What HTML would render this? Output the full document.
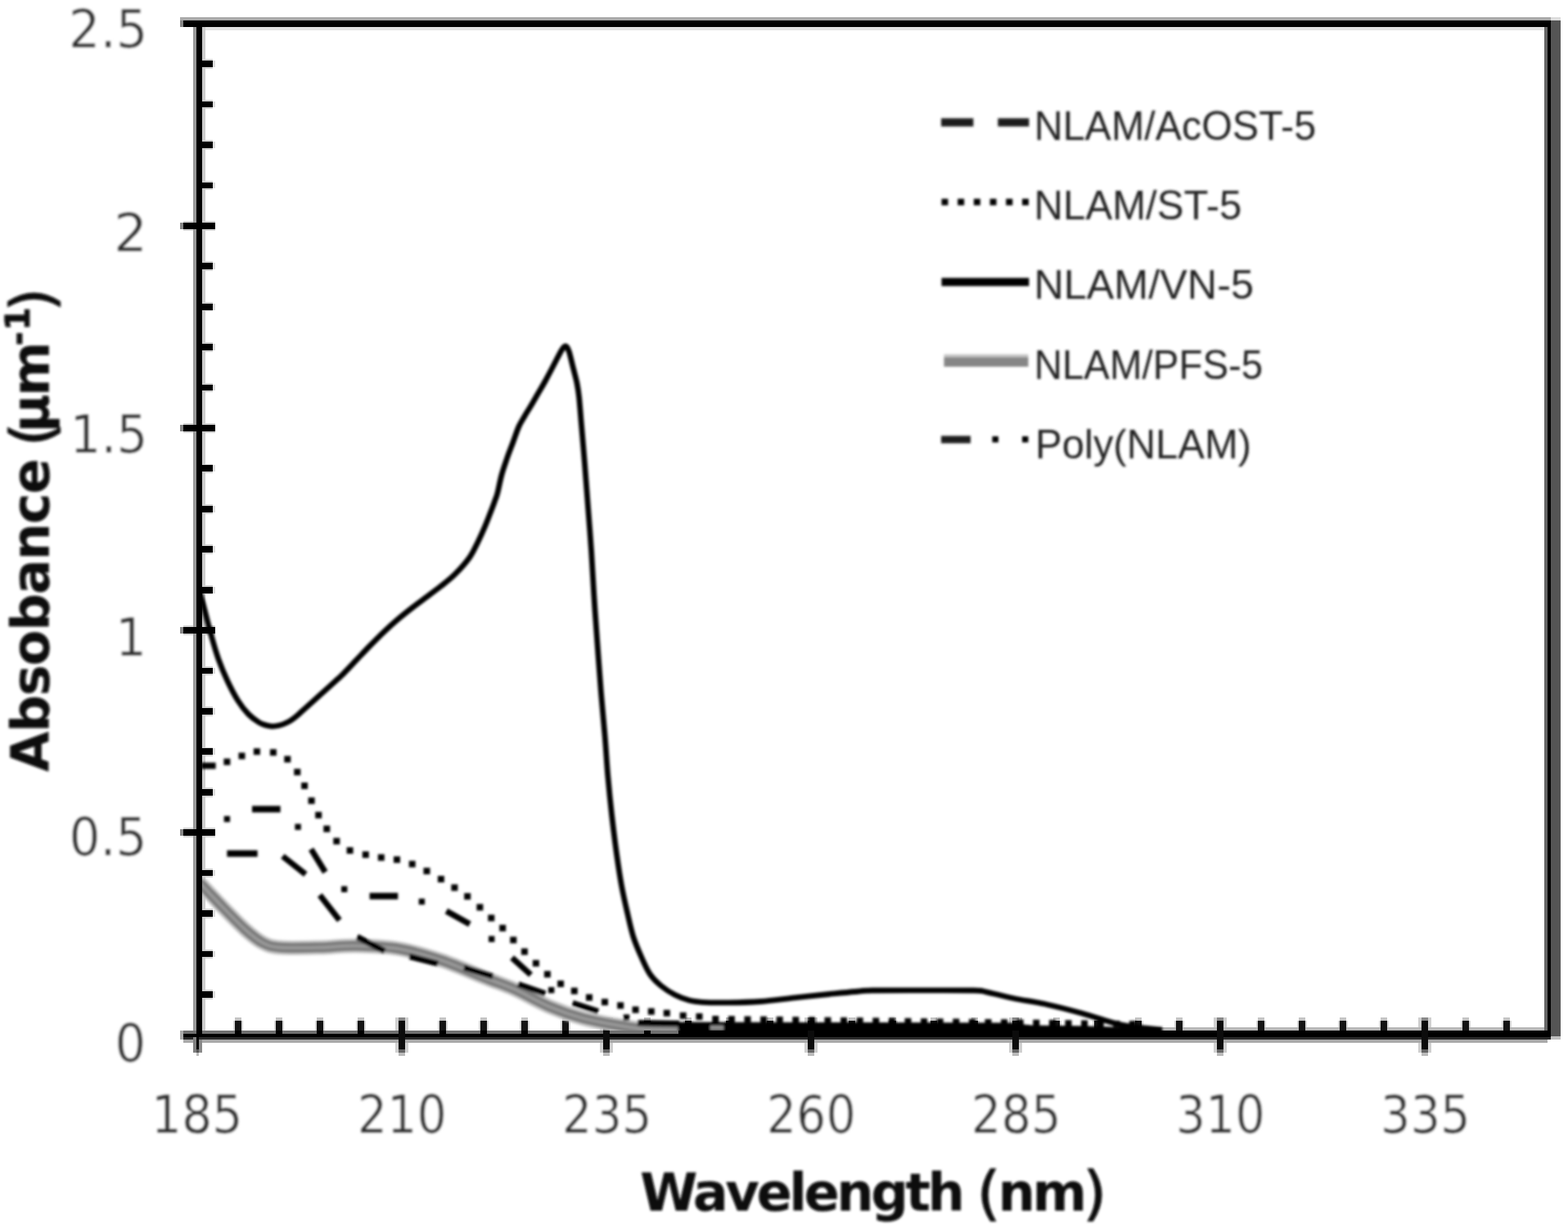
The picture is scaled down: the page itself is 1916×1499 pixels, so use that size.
<!DOCTYPE html>
<html lang="en">
<head>
<meta charset="utf-8">
<title>UV absorbance spectra</title>
<style>
html,body{margin:0;padding:0;background:#fff;}
body{width:1916px;height:1499px;overflow:hidden;}
svg{display:block;}
</style>
</head>
<body>
<svg width="1916" height="1499" viewBox="0 0 1916 1499" shape-rendering="geometricPrecision">
<defs><clipPath id="plot"><rect x="247" y="30" width="1644" height="1229"/></clipPath><filter id="soft" x="-2%" y="-2%" width="104%" height="104%"><feGaussianBlur stdDeviation="1.5"/></filter><filter id="soft2" x="-2%" y="-2%" width="104%" height="104%"><feGaussianBlur stdDeviation="1.35"/></filter></defs>
<rect x="0" y="0" width="1916" height="1499" fill="#fff"/>
<g id="axes" shape-rendering="crispEdges">
<rect x="1894.7" y="25.2" width="12.2" height="1241.1" fill="#555"/>
<rect x="1894.7" y="21.3" width="12.2" height="3.9" fill="#ddd"/>
<rect x="1894.7" y="1266.3" width="12.2" height="3.7" fill="#c0c0c0"/>
<rect x="1886.8" y="33" width="4.1" height="1225.6" fill="#666"/>
<rect x="1890.9" y="25.2" width="3.8" height="1241.1" fill="#000"/>
<rect x="219.7" y="21.3" width="1675" height="4" fill="#aaa"/>
<rect x="223.7" y="25.3" width="1671" height="7.8" fill="#000"/>
<rect x="219.7" y="25.3" width="4" height="7.8" fill="#888"/>
<rect x="251" y="33.1" width="1635.8" height="3.7" fill="#e2e2e2"/>
<rect x="483.3" y="1243" width="3.8" height="43" fill="#d0d0d0"/>
<rect x="494.9" y="1243" width="3.8" height="43" fill="#d0d0d0"/>
<rect x="733.3" y="1243" width="3.9" height="43" fill="#d0d0d0"/>
<rect x="744.9" y="1243" width="3.9" height="43" fill="#d0d0d0"/>
<rect x="983.3" y="1243" width="3.9" height="43" fill="#d0d0d0"/>
<rect x="994.9" y="1243" width="3.9" height="43" fill="#d0d0d0"/>
<rect x="1233.3" y="1243" width="3.9" height="43" fill="#d0d0d0"/>
<rect x="1244.8" y="1243" width="3.9" height="43" fill="#d0d0d0"/>
<rect x="1483.3" y="1243" width="3.9" height="43" fill="#d0d0d0"/>
<rect x="1494.8" y="1243" width="3.9" height="43" fill="#d0d0d0"/>
<rect x="1733.3" y="1243" width="3.9" height="43" fill="#d0d0d0"/>
<rect x="1744.8" y="1243" width="3.9" height="43" fill="#d0d0d0"/>
<rect x="285" y="1247" width="12" height="11.7" fill="#d8d8d8"/>
<rect x="287.1" y="1243.2" width="7.7" height="3.8" fill="#c4c4c4"/>
<rect x="335" y="1247" width="12" height="11.7" fill="#d8d8d8"/>
<rect x="337.1" y="1243.2" width="7.7" height="3.8" fill="#c4c4c4"/>
<rect x="385" y="1247" width="12" height="11.7" fill="#d8d8d8"/>
<rect x="387.1" y="1243.2" width="7.7" height="3.8" fill="#c4c4c4"/>
<rect x="435" y="1247" width="12" height="11.7" fill="#d8d8d8"/>
<rect x="437.1" y="1243.2" width="7.7" height="3.8" fill="#c4c4c4"/>
<rect x="535" y="1247" width="12" height="11.7" fill="#d8d8d8"/>
<rect x="537.1" y="1243.2" width="7.7" height="3.8" fill="#c4c4c4"/>
<rect x="585" y="1247" width="12" height="11.7" fill="#d8d8d8"/>
<rect x="587.1" y="1243.2" width="7.7" height="3.8" fill="#c4c4c4"/>
<rect x="635" y="1247" width="12" height="11.7" fill="#d8d8d8"/>
<rect x="637.1" y="1243.2" width="7.7" height="3.8" fill="#c4c4c4"/>
<rect x="685" y="1247" width="12" height="11.7" fill="#d8d8d8"/>
<rect x="687.1" y="1243.2" width="7.7" height="3.8" fill="#c4c4c4"/>
<rect x="785" y="1247" width="12" height="11.7" fill="#d8d8d8"/>
<rect x="787.1" y="1243.2" width="7.7" height="3.8" fill="#c4c4c4"/>
<rect x="835" y="1247" width="12" height="11.7" fill="#d8d8d8"/>
<rect x="837.1" y="1243.2" width="7.7" height="3.8" fill="#c4c4c4"/>
<rect x="885" y="1247" width="12" height="11.7" fill="#d8d8d8"/>
<rect x="887.1" y="1243.2" width="7.7" height="3.8" fill="#c4c4c4"/>
<rect x="935" y="1247" width="12" height="11.7" fill="#d8d8d8"/>
<rect x="937.1" y="1243.2" width="7.7" height="3.8" fill="#c4c4c4"/>
<rect x="1035" y="1247" width="12" height="11.7" fill="#d8d8d8"/>
<rect x="1037.2" y="1243.2" width="7.7" height="3.8" fill="#c4c4c4"/>
<rect x="1085" y="1247" width="12" height="11.7" fill="#d8d8d8"/>
<rect x="1087.2" y="1243.2" width="7.7" height="3.8" fill="#c4c4c4"/>
<rect x="1135" y="1247" width="12" height="11.7" fill="#d8d8d8"/>
<rect x="1137.2" y="1243.2" width="7.7" height="3.8" fill="#c4c4c4"/>
<rect x="1185" y="1247" width="12" height="11.7" fill="#d8d8d8"/>
<rect x="1187.2" y="1243.2" width="7.7" height="3.8" fill="#c4c4c4"/>
<rect x="1285" y="1247" width="12" height="11.7" fill="#d8d8d8"/>
<rect x="1287.2" y="1243.2" width="7.7" height="3.8" fill="#c4c4c4"/>
<rect x="1335" y="1247" width="12" height="11.7" fill="#d8d8d8"/>
<rect x="1337.2" y="1243.2" width="7.7" height="3.8" fill="#c4c4c4"/>
<rect x="1385" y="1247" width="12" height="11.7" fill="#d8d8d8"/>
<rect x="1387.2" y="1243.2" width="7.7" height="3.8" fill="#c4c4c4"/>
<rect x="1435" y="1247" width="12" height="11.7" fill="#d8d8d8"/>
<rect x="1437.2" y="1243.2" width="7.7" height="3.8" fill="#c4c4c4"/>
<rect x="1535" y="1247" width="12" height="11.7" fill="#d8d8d8"/>
<rect x="1537.2" y="1243.2" width="7.7" height="3.8" fill="#c4c4c4"/>
<rect x="1585" y="1247" width="12" height="11.7" fill="#d8d8d8"/>
<rect x="1587.2" y="1243.2" width="7.7" height="3.8" fill="#c4c4c4"/>
<rect x="1635" y="1247" width="12" height="11.7" fill="#d8d8d8"/>
<rect x="1637.2" y="1243.2" width="7.7" height="3.8" fill="#c4c4c4"/>
<rect x="1685" y="1247" width="12" height="11.7" fill="#d8d8d8"/>
<rect x="1687.2" y="1243.2" width="7.7" height="3.8" fill="#c4c4c4"/>
<rect x="1785" y="1247" width="12" height="11.7" fill="#d8d8d8"/>
<rect x="1787.2" y="1243.2" width="7.7" height="3.8" fill="#c4c4c4"/>
<rect x="1835" y="1247" width="12" height="11.7" fill="#d8d8d8"/>
<rect x="1837.2" y="1243.2" width="7.7" height="3.8" fill="#c4c4c4"/>
<rect x="1400" y="1254.9" width="486.8" height="3.8" fill="#b8b8b8"/>
<rect x="223.7" y="1258.7" width="605.3" height="3.9" fill="#707070"/>
<rect x="829" y="1258.7" width="1065.7" height="3.9" fill="#000"/>
<rect x="223.7" y="1262.6" width="1671" height="3.9" fill="#000"/>
<rect x="223.7" y="1266.5" width="1671" height="3.7" fill="#2a2a2a"/>
<rect x="223.7" y="1270.2" width="1667.2" height="3.7" fill="#aaa"/>
<rect x="219.8" y="1258.7" width="3.9" height="11.5" fill="#aaa"/>
<rect x="287.1" y="1247" width="7.7" height="11.7" fill="#141414"/>
<rect x="287.1" y="1258.7" width="7.7" height="3.9" fill="#000"/>
<rect x="337.1" y="1247" width="7.7" height="11.7" fill="#141414"/>
<rect x="337.1" y="1258.7" width="7.7" height="3.9" fill="#000"/>
<rect x="387.1" y="1247" width="7.7" height="11.7" fill="#141414"/>
<rect x="387.1" y="1258.7" width="7.7" height="3.9" fill="#000"/>
<rect x="437.1" y="1247" width="7.7" height="11.7" fill="#141414"/>
<rect x="437.1" y="1258.7" width="7.7" height="3.9" fill="#000"/>
<rect x="537.1" y="1247" width="7.7" height="11.7" fill="#141414"/>
<rect x="537.1" y="1258.7" width="7.7" height="3.9" fill="#000"/>
<rect x="587.1" y="1247" width="7.7" height="11.7" fill="#141414"/>
<rect x="587.1" y="1258.7" width="7.7" height="3.9" fill="#000"/>
<rect x="637.1" y="1247" width="7.7" height="11.7" fill="#141414"/>
<rect x="637.1" y="1258.7" width="7.7" height="3.9" fill="#000"/>
<rect x="687.1" y="1247" width="7.7" height="11.7" fill="#141414"/>
<rect x="687.1" y="1258.7" width="7.7" height="3.9" fill="#000"/>
<rect x="787.1" y="1247" width="7.7" height="11.7" fill="#141414"/>
<rect x="787.1" y="1258.7" width="7.7" height="3.9" fill="#000"/>
<rect x="837.1" y="1247" width="7.7" height="11.7" fill="#141414"/>
<rect x="837.1" y="1258.7" width="7.7" height="3.9" fill="#000"/>
<rect x="887.1" y="1247" width="7.7" height="11.7" fill="#141414"/>
<rect x="887.1" y="1258.7" width="7.7" height="3.9" fill="#000"/>
<rect x="937.1" y="1247" width="7.7" height="11.7" fill="#141414"/>
<rect x="937.1" y="1258.7" width="7.7" height="3.9" fill="#000"/>
<rect x="1037.2" y="1247" width="7.7" height="11.7" fill="#141414"/>
<rect x="1037.2" y="1258.7" width="7.7" height="3.9" fill="#000"/>
<rect x="1087.2" y="1247" width="7.7" height="11.7" fill="#141414"/>
<rect x="1087.2" y="1258.7" width="7.7" height="3.9" fill="#000"/>
<rect x="1137.2" y="1247" width="7.7" height="11.7" fill="#141414"/>
<rect x="1137.2" y="1258.7" width="7.7" height="3.9" fill="#000"/>
<rect x="1187.2" y="1247" width="7.7" height="11.7" fill="#141414"/>
<rect x="1187.2" y="1258.7" width="7.7" height="3.9" fill="#000"/>
<rect x="1287.2" y="1247" width="7.7" height="11.7" fill="#141414"/>
<rect x="1287.2" y="1258.7" width="7.7" height="3.9" fill="#000"/>
<rect x="1337.2" y="1247" width="7.7" height="11.7" fill="#141414"/>
<rect x="1337.2" y="1258.7" width="7.7" height="3.9" fill="#000"/>
<rect x="1387.2" y="1247" width="7.7" height="11.7" fill="#141414"/>
<rect x="1387.2" y="1258.7" width="7.7" height="3.9" fill="#000"/>
<rect x="1437.2" y="1247" width="7.7" height="11.7" fill="#141414"/>
<rect x="1437.2" y="1258.7" width="7.7" height="3.9" fill="#000"/>
<rect x="1537.2" y="1247" width="7.7" height="11.7" fill="#141414"/>
<rect x="1537.2" y="1258.7" width="7.7" height="3.9" fill="#000"/>
<rect x="1587.2" y="1247" width="7.7" height="11.7" fill="#141414"/>
<rect x="1587.2" y="1258.7" width="7.7" height="3.9" fill="#000"/>
<rect x="1637.2" y="1247" width="7.7" height="11.7" fill="#141414"/>
<rect x="1637.2" y="1258.7" width="7.7" height="3.9" fill="#000"/>
<rect x="1687.2" y="1247" width="7.7" height="11.7" fill="#141414"/>
<rect x="1687.2" y="1258.7" width="7.7" height="3.9" fill="#000"/>
<rect x="1787.2" y="1247" width="7.7" height="11.7" fill="#141414"/>
<rect x="1787.2" y="1258.7" width="7.7" height="3.9" fill="#000"/>
<rect x="1837.2" y="1247" width="7.7" height="11.7" fill="#141414"/>
<rect x="1837.2" y="1258.7" width="7.7" height="3.9" fill="#000"/>
<rect x="487.1" y="1246.7" width="7.7" height="35.5" fill="#0c0c0c"/>
<rect x="487.1" y="1243" width="7.7" height="3.7" fill="#888"/>
<rect x="487.1" y="1282.2" width="7.7" height="3.8" fill="#666"/>
<rect x="487.1" y="1286" width="7.7" height="3.7" fill="#bbb"/>
<rect x="737.1" y="1246.7" width="7.7" height="35.5" fill="#0c0c0c"/>
<rect x="737.1" y="1243" width="7.7" height="3.7" fill="#888"/>
<rect x="737.1" y="1282.2" width="7.7" height="3.8" fill="#666"/>
<rect x="737.1" y="1286" width="7.7" height="3.7" fill="#bbb"/>
<rect x="987.1" y="1246.7" width="7.7" height="35.5" fill="#0c0c0c"/>
<rect x="987.1" y="1243" width="7.7" height="3.7" fill="#888"/>
<rect x="987.1" y="1282.2" width="7.7" height="3.8" fill="#666"/>
<rect x="987.1" y="1286" width="7.7" height="3.7" fill="#bbb"/>
<rect x="1237.2" y="1246.7" width="7.7" height="35.5" fill="#0c0c0c"/>
<rect x="1237.2" y="1243" width="7.7" height="3.7" fill="#888"/>
<rect x="1237.2" y="1282.2" width="7.7" height="3.8" fill="#666"/>
<rect x="1237.2" y="1286" width="7.7" height="3.7" fill="#bbb"/>
<rect x="1487.2" y="1246.7" width="7.7" height="35.5" fill="#0c0c0c"/>
<rect x="1487.2" y="1243" width="7.7" height="3.7" fill="#888"/>
<rect x="1487.2" y="1282.2" width="7.7" height="3.8" fill="#666"/>
<rect x="1487.2" y="1286" width="7.7" height="3.7" fill="#bbb"/>
<rect x="1737.2" y="1246.7" width="7.7" height="35.5" fill="#0c0c0c"/>
<rect x="1737.2" y="1243" width="7.7" height="3.7" fill="#888"/>
<rect x="1737.2" y="1282.2" width="7.7" height="3.8" fill="#666"/>
<rect x="1737.2" y="1286" width="7.7" height="3.7" fill="#bbb"/>
<rect x="236" y="1266.5" width="3.7" height="19.5" fill="#808080"/>
<rect x="239.7" y="1262" width="3.7" height="20.2" fill="#000"/>
<rect x="239.7" y="1282.2" width="3.7" height="3.8" fill="#555"/>
<rect x="239.7" y="1286" width="3.7" height="3.7" fill="#bbb"/>
<rect x="243.4" y="1270.2" width="3.6" height="15.8" fill="#8a8a8a"/>
<rect x="247" y="1209" width="12.5" height="11.6" fill="#d4d4d4"/>
<rect x="247" y="1159.6" width="12.5" height="11.6" fill="#d4d4d4"/>
<rect x="247" y="1110.1" width="12.5" height="11.6" fill="#d4d4d4"/>
<rect x="247" y="1060.7" width="12.5" height="11.6" fill="#d4d4d4"/>
<rect x="223.7" y="1011.3" width="38.8" height="11.6" fill="#d4d4d4"/>
<rect x="247" y="961.9" width="12.5" height="11.6" fill="#d4d4d4"/>
<rect x="247" y="912.5" width="12.5" height="11.6" fill="#d4d4d4"/>
<rect x="247" y="863" width="12.5" height="11.6" fill="#d4d4d4"/>
<rect x="247" y="813.6" width="12.5" height="11.6" fill="#d4d4d4"/>
<rect x="223.7" y="764.2" width="38.8" height="11.6" fill="#d4d4d4"/>
<rect x="247" y="714.8" width="12.5" height="11.6" fill="#d4d4d4"/>
<rect x="247" y="665.4" width="12.5" height="11.6" fill="#d4d4d4"/>
<rect x="247" y="615.9" width="12.5" height="11.6" fill="#d4d4d4"/>
<rect x="247" y="566.5" width="12.5" height="11.6" fill="#d4d4d4"/>
<rect x="223.7" y="517.1" width="38.8" height="11.6" fill="#d4d4d4"/>
<rect x="247" y="467.7" width="12.5" height="11.6" fill="#d4d4d4"/>
<rect x="247" y="418.3" width="12.5" height="11.6" fill="#d4d4d4"/>
<rect x="247" y="368.8" width="12.5" height="11.6" fill="#d4d4d4"/>
<rect x="247" y="319.4" width="12.5" height="11.6" fill="#d4d4d4"/>
<rect x="223.7" y="270" width="38.8" height="11.6" fill="#d4d4d4"/>
<rect x="247" y="220.6" width="12.5" height="11.6" fill="#d4d4d4"/>
<rect x="247" y="171.2" width="12.5" height="11.6" fill="#d4d4d4"/>
<rect x="247" y="121.7" width="12.5" height="11.6" fill="#d4d4d4"/>
<rect x="247" y="72.3" width="12.5" height="11.6" fill="#d4d4d4"/>
<rect x="236" y="33" width="3.7" height="1225.7" fill="#999"/>
<rect x="239.7" y="25.3" width="7.3" height="1241.2" fill="#000"/>
<rect x="247" y="33" width="3.9" height="1225.7" fill="#ccc"/>
<rect x="247" y="1210.9" width="12.5" height="7.8" fill="#000"/>
<rect x="259.5" y="1210.9" width="3.5" height="7.8" fill="#ddd"/>
<rect x="247" y="1161.5" width="12.5" height="7.8" fill="#000"/>
<rect x="259.5" y="1161.5" width="3.5" height="7.8" fill="#ddd"/>
<rect x="247" y="1112" width="12.5" height="7.8" fill="#000"/>
<rect x="259.5" y="1112" width="3.5" height="7.8" fill="#ddd"/>
<rect x="247" y="1062.6" width="12.5" height="7.8" fill="#000"/>
<rect x="259.5" y="1062.6" width="3.5" height="7.8" fill="#ddd"/>
<rect x="223.7" y="1013.2" width="38.8" height="7.8" fill="#000"/>
<rect x="219.7" y="1013.2" width="4" height="7.8" fill="#888"/>
<rect x="247" y="963.8" width="12.5" height="7.8" fill="#000"/>
<rect x="259.5" y="963.8" width="3.5" height="7.8" fill="#ddd"/>
<rect x="247" y="914.4" width="12.5" height="7.8" fill="#000"/>
<rect x="259.5" y="914.4" width="3.5" height="7.8" fill="#ddd"/>
<rect x="247" y="864.9" width="12.5" height="7.8" fill="#000"/>
<rect x="259.5" y="864.9" width="3.5" height="7.8" fill="#ddd"/>
<rect x="247" y="815.5" width="12.5" height="7.8" fill="#000"/>
<rect x="259.5" y="815.5" width="3.5" height="7.8" fill="#ddd"/>
<rect x="223.7" y="766.1" width="38.8" height="7.8" fill="#000"/>
<rect x="219.7" y="766.1" width="4" height="7.8" fill="#888"/>
<rect x="247" y="716.7" width="12.5" height="7.8" fill="#000"/>
<rect x="259.5" y="716.7" width="3.5" height="7.8" fill="#ddd"/>
<rect x="247" y="667.3" width="12.5" height="7.8" fill="#000"/>
<rect x="259.5" y="667.3" width="3.5" height="7.8" fill="#ddd"/>
<rect x="247" y="617.8" width="12.5" height="7.8" fill="#000"/>
<rect x="259.5" y="617.8" width="3.5" height="7.8" fill="#ddd"/>
<rect x="247" y="568.4" width="12.5" height="7.8" fill="#000"/>
<rect x="259.5" y="568.4" width="3.5" height="7.8" fill="#ddd"/>
<rect x="223.7" y="519" width="38.8" height="7.8" fill="#000"/>
<rect x="219.7" y="519" width="4" height="7.8" fill="#888"/>
<rect x="247" y="469.6" width="12.5" height="7.8" fill="#000"/>
<rect x="259.5" y="469.6" width="3.5" height="7.8" fill="#ddd"/>
<rect x="247" y="420.2" width="12.5" height="7.8" fill="#000"/>
<rect x="259.5" y="420.2" width="3.5" height="7.8" fill="#ddd"/>
<rect x="247" y="370.7" width="12.5" height="7.8" fill="#000"/>
<rect x="259.5" y="370.7" width="3.5" height="7.8" fill="#ddd"/>
<rect x="247" y="321.3" width="12.5" height="7.8" fill="#000"/>
<rect x="259.5" y="321.3" width="3.5" height="7.8" fill="#ddd"/>
<rect x="223.7" y="271.9" width="38.8" height="7.8" fill="#000"/>
<rect x="219.7" y="271.9" width="4" height="7.8" fill="#888"/>
<rect x="247" y="222.5" width="12.5" height="7.8" fill="#000"/>
<rect x="259.5" y="222.5" width="3.5" height="7.8" fill="#ddd"/>
<rect x="247" y="173.1" width="12.5" height="7.8" fill="#000"/>
<rect x="259.5" y="173.1" width="3.5" height="7.8" fill="#ddd"/>
<rect x="247" y="123.6" width="12.5" height="7.8" fill="#000"/>
<rect x="259.5" y="123.6" width="3.5" height="7.8" fill="#ddd"/>
<rect x="247" y="74.2" width="12.5" height="7.8" fill="#000"/>
<rect x="259.5" y="74.2" width="3.5" height="7.8" fill="#ddd"/>
</g>
<g clip-path="url(#plot)"><g id="curves" filter="url(#soft)">
<g fill="none" stroke-linejoin="round">
<path d="M243,1078 C243.8,1078.8 242.9,1077.5 248,1082.8 C253.1,1088 264.7,1100.6 273.4,1109.5 C282.1,1118.4 292,1128.9 300,1136 C308,1143.1 314.3,1148.4 321.4,1152 C328.5,1155.6 331.1,1156.6 342.7,1157.5 C354.3,1158.4 375.7,1157.8 390.8,1157.5 C405.9,1157.2 417.5,1155.2 433.5,1155.5 C449.5,1155.8 469,1156 486.8,1159 C504.6,1162 522.4,1167.5 540.2,1173.5 C558,1179.5 578.8,1189.1 593.6,1194.9 C608.4,1200.8 616,1202.8 628.8,1208.6 C641.6,1214.3 656.6,1223.5 670.5,1229.4 C684.4,1235.3 698.4,1240.2 712.3,1244 C726.2,1247.8 741.9,1250.2 754,1252.4 C766.1,1254.6 772,1256 785,1257 C798,1258 824.2,1258.2 832,1258.5" stroke="#c8c8c8" stroke-width="18"/>
<path d="M243,1078 C243.8,1078.8 242.9,1077.5 248,1082.8 C253.1,1088 264.7,1100.6 273.4,1109.5 C282.1,1118.4 292,1128.9 300,1136 C308,1143.1 314.3,1148.4 321.4,1152 C328.5,1155.6 331.1,1156.6 342.7,1157.5 C354.3,1158.4 375.7,1157.8 390.8,1157.5 C405.9,1157.2 417.5,1155.2 433.5,1155.5 C449.5,1155.8 469,1156 486.8,1159 C504.6,1162 522.4,1167.5 540.2,1173.5 C558,1179.5 578.8,1189.1 593.6,1194.9 C608.4,1200.8 616,1202.8 628.8,1208.6 C641.6,1214.3 656.6,1223.5 670.5,1229.4 C684.4,1235.3 698.4,1240.2 712.3,1244 C726.2,1247.8 741.9,1250.2 754,1252.4 C766.1,1254.6 772,1256 785,1257 C798,1258 824.2,1258.2 832,1258.5" stroke="#7c7c7c" stroke-width="12.5"/>
<path d="M243,1078 C243.8,1078.8 242.9,1077.5 248,1082.8 C253.1,1088 264.7,1100.6 273.4,1109.5 C282.1,1118.4 292,1128.9 300,1136 C308,1143.1 314.3,1148.4 321.4,1152 C328.5,1155.6 331.1,1156.6 342.7,1157.5 C354.3,1158.4 375.7,1157.8 390.8,1157.5 C405.9,1157.2 417.5,1155.2 433.5,1155.5 C449.5,1155.8 469,1156 486.8,1159 C504.6,1162 522.4,1167.5 540.2,1173.5 C558,1179.5 578.8,1189.1 593.6,1194.9 C608.4,1200.8 616,1202.8 628.8,1208.6 C641.6,1214.3 656.6,1223.5 670.5,1229.4 C684.4,1235.3 698.4,1240.2 712.3,1244 C726.2,1247.8 741.9,1250.2 754,1252.4 C766.1,1254.6 772,1256 785,1257 C798,1258 824.2,1258.2 832,1258.5" stroke="#989898" stroke-width="3.8"/>
<path d="M829,1249 L1235,1250 L1260,1253 L1330,1254 L1400,1256.5 L1420,1258.5 L1420,1270 L829,1270 Z" fill="#000" stroke="#000" stroke-width="1"/>
<path d="M779,1249.6 L830,1250.4" stroke="#000" stroke-width="7.4"/>
<rect x="868" y="1253" width="16" height="5.5" fill="#8c8c8c" stroke="none"/>
<path d="M308,988.6 L342.7,988.6" stroke="#000" stroke-width="8"/>
<path d="M380.1,1037.4 L397.4,1065.5" stroke="#000" stroke-width="7.2"/>
<path d="M451.6,1094.8 L486.3,1094.8" stroke="#000" stroke-width="8"/>
<path d="M545.4,1113 L574,1129" stroke="#000" stroke-width="7.2"/>
<path d="M625.6,1170 L648.6,1190.8" stroke="#000" stroke-width="7.2"/>
<path d="M699.7,1225.3 L731,1235.7" stroke="#000" stroke-width="7.2"/>
<path d="M277.4,1042.8 L314.7,1042.8" stroke="#000" stroke-width="8"/>
<path d="M345.4,1046 L373.4,1068.1" stroke="#000" stroke-width="7.2"/>
<path d="M390.8,1093.5 L414.8,1124.2" stroke="#000" stroke-width="7.2"/>
<path d="M436.4,1144.5 L470,1162" stroke="#000" stroke-width="7.2"/>
<path d="M500.2,1168.5 L535,1177.3" stroke="#000" stroke-width="7.2"/>
<path d="M567.1,1182 L602.2,1192.8" stroke="#000" stroke-width="7.2"/>
<path d="M633,1202.3 L666.3,1213.8" stroke="#000" stroke-width="7.2"/>
</g>
<g fill="#000">
<rect x="273.7" y="996.9" width="7.4" height="7.4"/>
<rect x="360.4" y="1006.5" width="7.4" height="7.4"/>
<rect x="417" y="1082.6" width="7.4" height="7.4"/>
<rect x="511.7" y="1097.8" width="7.4" height="7.4"/>
<rect x="597" y="1143.5" width="7.4" height="7.4"/>
<rect x="670" y="1205.9" width="7.4" height="7.4"/>
<rect x="761.8" y="1239.3" width="7.4" height="7.4"/>
<rect x="246" y="931.6" width="17.6" height="7.8"/>
<rect x="273.4" y="926.7" width="8" height="8"/>
<rect x="291.5" y="919.5" width="8" height="8"/>
<rect x="309.9" y="914.2" width="8" height="8"/>
<rect x="329.9" y="915.2" width="8" height="8"/>
<rect x="347.3" y="923.5" width="8" height="8"/>
<rect x="359.3" y="939.2" width="8" height="8"/>
<rect x="368.1" y="956" width="8" height="8"/>
<rect x="376.6" y="974.2" width="8" height="8"/>
<rect x="385.2" y="991.8" width="8" height="8"/>
<rect x="395.3" y="1008.6" width="8" height="8"/>
<rect x="407.3" y="1023.6" width="8" height="8"/>
<rect x="423.6" y="1035" width="8" height="8"/>
<rect x="442.8" y="1040.1" width="8" height="8"/>
<rect x="461.8" y="1043.6" width="8" height="8"/>
<rect x="481" y="1046.2" width="8" height="8"/>
<rect x="499.7" y="1051.6" width="8" height="8"/>
<rect x="517.5" y="1060.1" width="8" height="8"/>
<rect x="534.9" y="1070" width="8" height="8"/>
<rect x="551.4" y="1080.4" width="8" height="8"/>
<rect x="567.2" y="1091.1" width="8" height="8"/>
<rect x="582.4" y="1104.4" width="8" height="8"/>
<rect x="596.3" y="1117.5" width="8" height="8"/>
<rect x="610.2" y="1129.8" width="8" height="8"/>
<rect x="623.3" y="1144.4" width="8" height="8"/>
<rect x="636.9" y="1158.6" width="8" height="8"/>
<rect x="650.9" y="1172.8" width="8" height="8"/>
<rect x="664.9" y="1186.2" width="8" height="8"/>
<rect x="681.1" y="1197.9" width="8" height="8"/>
<rect x="697.8" y="1206.6" width="8" height="8"/>
<rect x="716" y="1214.6" width="8" height="8"/>
<rect x="735" y="1220.2" width="8" height="8"/>
<rect x="754.2" y="1224.4" width="8" height="8"/>
<rect x="772.6" y="1229.6" width="8" height="8"/>
<rect x="791.8" y="1231.7" width="8" height="8"/>
<rect x="810.8" y="1233.7" width="8" height="8"/>
<rect x="830.7" y="1236.8" width="8" height="8"/>
<rect x="850.5" y="1237.9" width="8" height="8"/>
<rect x="870.3" y="1241" width="8" height="8"/>
<rect x="889.9" y="1241.2" width="8" height="8"/>
<rect x="909.5" y="1241.5" width="8" height="8"/>
<rect x="929.1" y="1241.7" width="8" height="8"/>
<rect x="948.7" y="1241.9" width="8" height="8"/>
<rect x="968.3" y="1242.2" width="8" height="8"/>
<rect x="987.9" y="1242.4" width="8" height="8"/>
<rect x="1007.5" y="1242.7" width="8" height="8"/>
<rect x="1027.1" y="1242.9" width="8" height="8"/>
<rect x="1046.7" y="1243.1" width="8" height="8"/>
<rect x="1066.3" y="1243.4" width="8" height="8"/>
<rect x="1085.9" y="1243.6" width="8" height="8"/>
<rect x="1105.5" y="1243.8" width="8" height="8"/>
<rect x="1125.1" y="1244.1" width="8" height="8"/>
<rect x="1144.7" y="1244.3" width="8" height="8"/>
<rect x="1164.3" y="1244.5" width="8" height="8"/>
<rect x="1183.9" y="1244.8" width="8" height="8"/>
<rect x="1203.5" y="1245" width="8" height="8"/>
<rect x="1223.1" y="1245.2" width="8" height="8"/>
<rect x="1242.7" y="1245.5" width="8" height="8"/>
<rect x="1262.3" y="1245.7" width="8" height="8"/>
<rect x="1281.9" y="1245.9" width="8" height="8"/>
<rect x="1301.5" y="1246.2" width="8" height="8"/>
<rect x="1321.1" y="1246.4" width="8" height="8"/>
<rect x="1340.7" y="1246.6" width="8" height="8"/>
<rect x="1360.3" y="1246.9" width="8" height="8"/>
<rect x="1379.9" y="1247.1" width="8" height="8"/>
</g>
<path d="M243,722 C243.8,724.3 245.2,727.5 247.6,736 C250,744.5 254,761.4 257.2,772.9 C260.4,784.4 263.3,795 266.8,804.9 C270.3,814.8 274,823.5 278,832 C282,840.5 286.5,849.2 290.8,856 C295.1,862.8 299.3,868.1 303.6,872.5 C307.9,876.9 312.8,880.2 316.4,882.5 C320,884.8 322.3,885.2 325,886 C327.7,886.8 330,887.2 332.7,887.3 C335.4,887.3 338.1,887 341,886.3 C343.9,885.6 347.4,884.2 350,883 C352.6,881.8 354.5,880.7 356.7,879.2 C358.9,877.7 361.2,875.9 363.4,874 C365.6,872.1 367.8,870 370,868 C372.2,866 374.5,864 376.7,862 C378.9,860 381.2,858 383.4,856 C385.6,854 387.8,852 390,850 C392.2,848 394.5,846 396.7,844 C398.9,842 401.2,840 403.4,838 C405.6,836 407.7,834.1 410,832 C412.3,829.9 413.2,829.5 417.3,825.4 C421.4,821.3 428.9,813.3 434.7,807.2 C440.5,801.1 446.2,794.9 452,789 C457.8,783.1 463.6,777.2 469.4,771.7 C475.2,766.2 480.9,761 486.7,756.1 C492.5,751.2 498.2,746.7 504,742.2 C509.8,737.7 515.6,733.5 521.4,729.2 C527.2,724.9 532.9,720.8 538.7,716.2 C544.5,711.6 550.3,707.2 556.1,701.4 C561.9,695.6 568.8,688 573.4,681.5 C578,675 580.6,668.8 583.8,662.4 C587,656 589.9,649.5 592.5,643.4 C595.1,637.3 597.4,631.2 599.4,626 C601.4,620.8 603.2,616.1 604.6,612.1 C606,608.1 606.6,607.4 608,602 C609.4,596.6 611.1,587 613,580 C614.9,573 617.2,566.7 619.5,560 C621.8,553.3 624.6,546.5 627,540 C629.4,533.5 631.7,526.2 634,521 C636.3,515.8 638.7,512.5 641,508.5 C643.3,504.5 645.3,501.5 648,497 C650.7,492.5 654,486.7 657,481.5 C660,476.3 663.2,471.1 666,466 C668.8,460.9 671.5,455.8 674,451 C676.5,446.2 679,441.3 681,437.5 C683,433.7 684.6,430.5 686,428.2 C687.4,425.9 688.4,424.3 689.5,423.6 C690.6,422.9 691.5,422.7 692.5,423.8 C693.5,424.9 694.1,425.5 695.5,430 C696.9,434.5 699.1,444.4 700.7,450.7 C702.3,457 703.9,462.2 705,468 C706.1,473.8 706.8,477.8 707.6,485.4 C708.4,493 708.9,499.8 710,513.4 C711.1,527 713.1,549 714.5,566.8 C715.9,584.6 717.2,602.4 718.6,620.2 C720,638 721.4,655.7 722.6,673.5 C723.8,691.3 724.6,709.1 725.8,726.9 C726.9,744.6 728,760 729.5,780 C731,800 732.9,826.7 734.5,846.7 C736.1,866.7 737.8,883.1 739.2,900 C740.6,916.9 741.4,932 742.8,948 C744.2,964 745.8,980 747.6,996 C749.4,1012 751.6,1029.6 753.6,1044 C755.6,1058.4 757.4,1070.5 759.6,1082.5 C761.8,1094.5 764.4,1105.6 766.8,1116 C769.2,1126.4 771.2,1136.1 774,1144.9 C776.8,1153.7 780.2,1161.3 783.6,1168.9 C787,1176.5 790.4,1184.6 794.5,1190.5 C798.6,1196.4 802.9,1200.3 808,1204.5 C813.1,1208.7 819.3,1212.6 825,1215.5 C830.7,1218.4 836.5,1220.5 842,1222 C847.5,1223.5 850,1223.8 858,1224.3 C866,1224.8 878.1,1224.9 890,1224.8 C901.9,1224.7 916,1224.5 929.6,1223.5 C943.2,1222.5 957.5,1220.4 971.4,1218.9 C985.3,1217.4 1000.7,1215.7 1013,1214.5 C1025.3,1213.3 1036.2,1212.2 1045,1211.5 C1053.8,1210.8 1051.2,1210.3 1066,1210 C1080.8,1209.7 1112.8,1209.8 1133.5,1209.8 C1154.2,1209.8 1178.1,1209.7 1190,1210 C1201.9,1210.3 1197,1210.2 1205,1211.8 C1213,1213.4 1225.5,1216.9 1237.9,1219.5 C1250.3,1222.1 1265.7,1224.2 1279.6,1227.2 C1293.5,1230.2 1307.5,1233.9 1321.4,1237.7 C1335.3,1241.5 1352.6,1247.4 1363,1250.2 C1373.4,1253 1374.5,1253.1 1384,1254.4 C1393.5,1255.7 1414,1257.4 1420,1258" fill="none" stroke="#000" stroke-width="6.8" stroke-linejoin="round"/>
</g></g>
<g id="legend" filter="url(#soft)">
<g stroke="#000" fill="none">
<path d="M1150,149.4 H1189.4 M1219.4,149.4 H1257.4" stroke-width="10" stroke="#1a1a1a"/>
<rect x="1150.5" y="242.8" width="8" height="8" fill="#000" stroke="none"/>
<rect x="1170.2" y="242.8" width="8" height="8" fill="#000" stroke="none"/>
<rect x="1189.9" y="242.8" width="8" height="8" fill="#000" stroke="none"/>
<rect x="1209.6" y="242.8" width="8" height="8" fill="#000" stroke="none"/>
<rect x="1229.3" y="242.8" width="8" height="8" fill="#000" stroke="none"/>
<rect x="1249" y="242.8" width="8" height="8" fill="#000" stroke="none"/>
<path d="M1150.5,344.5 H1257.4" stroke-width="10"/>
<rect x="1153.5" y="432.8" width="103" height="3.6" fill="#c4c4c4" stroke="none"/>
<rect x="1153.5" y="436.3" width="103" height="11.7" fill="#868686" stroke="none"/>
<path d="M1150,537 H1186" stroke-width="9" stroke="#1a1a1a"/>
<rect x="1212.5" y="533" width="7.5" height="7.5" fill="#000" stroke="none"/>
<rect x="1249" y="533" width="7.5" height="7.5" fill="#000" stroke="none"/>
</g>
</g>
<g id="labels" filter="url(#soft2)">
<text x="83.8" y="58" textLength="96.62" lengthAdjust="spacingAndGlyphs" font-family="'DejaVu Sans', 'Liberation Sans', sans-serif" font-size="63.5" fill="#2c2c2c" stroke="#fff" stroke-width="0.6">2.5</text>
<text x="139.1" y="307.2" textLength="41.24" lengthAdjust="spacingAndGlyphs" font-family="'DejaVu Sans', 'Liberation Sans', sans-serif" font-size="63.5" fill="#2c2c2c" stroke="#fff" stroke-width="0.6">2</text>
<text x="85.6" y="552.7" textLength="94.69" lengthAdjust="spacingAndGlyphs" font-family="'DejaVu Sans', 'Liberation Sans', sans-serif" font-size="63.5" fill="#2c2c2c" stroke="#fff" stroke-width="0.6">1.5</text>
<text x="141" y="801" textLength="38.10" lengthAdjust="spacingAndGlyphs" font-family="'DejaVu Sans', 'Liberation Sans', sans-serif" font-size="63.5" fill="#2c2c2c" stroke="#fff" stroke-width="0.6">1</text>
<text x="84.4" y="1045.4" textLength="95.01" lengthAdjust="spacingAndGlyphs" font-family="'DejaVu Sans', 'Liberation Sans', sans-serif" font-size="63.5" fill="#2c2c2c" stroke="#fff" stroke-width="0.6">0.5</text>
<text x="140.5" y="1297" textLength="37.63" lengthAdjust="spacingAndGlyphs" font-family="'DejaVu Sans', 'Liberation Sans', sans-serif" font-size="63.5" fill="#2c2c2c" stroke="#fff" stroke-width="0.6">0</text>
<text x="184.8" y="1384.4" textLength="111.86" lengthAdjust="spacingAndGlyphs" font-family="'DejaVu Sans', 'Liberation Sans', sans-serif" font-size="63.5" fill="#2c2c2c" stroke="#fff" stroke-width="0.6">185</text>
<text x="436.8" y="1384.4" textLength="108.87" lengthAdjust="spacingAndGlyphs" font-family="'DejaVu Sans', 'Liberation Sans', sans-serif" font-size="63.5" fill="#2c2c2c" stroke="#fff" stroke-width="0.6">210</text>
<text x="686.8" y="1384.4" textLength="109.85" lengthAdjust="spacingAndGlyphs" font-family="'DejaVu Sans', 'Liberation Sans', sans-serif" font-size="63.5" fill="#2c2c2c" stroke="#fff" stroke-width="0.6">235</text>
<text x="936.8" y="1384.4" textLength="108.87" lengthAdjust="spacingAndGlyphs" font-family="'DejaVu Sans', 'Liberation Sans', sans-serif" font-size="63.5" fill="#2c2c2c" stroke="#fff" stroke-width="0.6">260</text>
<text x="1186.8" y="1384.4" textLength="109.85" lengthAdjust="spacingAndGlyphs" font-family="'DejaVu Sans', 'Liberation Sans', sans-serif" font-size="63.5" fill="#2c2c2c" stroke="#fff" stroke-width="0.6">285</text>
<text x="1436.8" y="1384.4" textLength="108.87" lengthAdjust="spacingAndGlyphs" font-family="'DejaVu Sans', 'Liberation Sans', sans-serif" font-size="63.5" fill="#2c2c2c" stroke="#fff" stroke-width="0.6">310</text>
<text x="1686.8" y="1384.4" textLength="109.85" lengthAdjust="spacingAndGlyphs" font-family="'DejaVu Sans', 'Liberation Sans', sans-serif" font-size="63.5" fill="#2c2c2c" stroke="#fff" stroke-width="0.6">335</text>
<text y="1478.8" font-family="'DejaVu Sans', 'Liberation Sans', sans-serif" font-weight="bold" font-size="64" fill="#0a0a0a"><tspan x="782" letter-spacing="-3.6">Wavelength </tspan><tspan x="1194" dy="3.5" font-size="71.5" font-weight="normal" stroke="#0a0a0a" stroke-width="1.5">(</tspan><tspan x="1219.5" dy="-3.5" letter-spacing="-3.6">nm</tspan><tspan x="1324" dy="3.5" font-size="71.5" font-weight="normal" stroke="#0a0a0a" stroke-width="1.5">)</tspan></text>
<text transform="translate(59.8,943) rotate(-90)" font-family="'DejaVu Sans', 'Liberation Sans', sans-serif" font-weight="bold" font-size="64" fill="#0a0a0a"><tspan x="0" letter-spacing="-1.3">Absobance </tspan><tspan x="398" dy="3.5" font-size="71.5" font-weight="normal" stroke="#0a0a0a" stroke-width="1.5">(</tspan><tspan x="414.5" dy="-3.5" letter-spacing="-2.6">µm</tspan><tspan x="521" font-size="40" dy="-24.5" letter-spacing="2" stroke="#0a0a0a" stroke-width="1.2">-1</tspan><tspan x="563" dy="28" font-size="71.5" font-weight="normal" stroke="#0a0a0a" stroke-width="1.5">)</tspan></text>
<text x="1263.7" y="171.2" textLength="344.45" lengthAdjust="spacingAndGlyphs" font-family="'Liberation Sans', Arial, sans-serif" font-size="50.5" fill="#242424">NLAM/AcOST-5</text>
<text x="1263.6" y="267.9" textLength="253.82" lengthAdjust="spacingAndGlyphs" font-family="'Liberation Sans', Arial, sans-serif" font-size="50.5" fill="#242424">NLAM/ST-5</text>
<text x="1263.5" y="365.3" textLength="268.38" lengthAdjust="spacingAndGlyphs" font-family="'Liberation Sans', Arial, sans-serif" font-size="50.5" fill="#242424">NLAM/VN-5</text>
<text x="1263.7" y="463.1" textLength="279.57" lengthAdjust="spacingAndGlyphs" font-family="'Liberation Sans', Arial, sans-serif" font-size="50.5" fill="#242424">NLAM/PFS-5</text>
<text x="1265.1" y="559.8" textLength="263.97" lengthAdjust="spacingAndGlyphs" font-family="'Liberation Sans', Arial, sans-serif" font-size="50.5" fill="#242424">Poly(NLAM)</text>
</g>
</svg>
</body>
</html>
